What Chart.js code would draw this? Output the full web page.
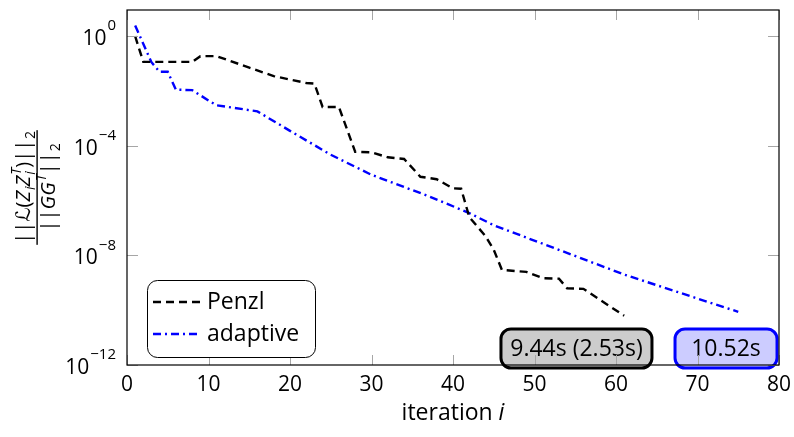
<!DOCTYPE html>
<html>
<head>
<meta charset="utf-8">
<script src="https://cdn.jsdelivr.net/npm/chart.js@4"></script>
<style>
html, body { margin: 0; padding: 0; background: #fff; }
#wrap { width: 794px; height: 437px; }
</style>
</head>
<body>
<div id="wrap"><canvas id="chart" width="794" height="437"></canvas></div>
<script>
// residual norms (corner points of each curve)
var penzlIter = [1, 2, 8, 9, 11, 15, 18, 22, 23, 24, 26, 28, 30, 32, 34, 36, 38, 40, 41, 42, 44, 45, 46, 49, 51, 53, 54, 56, 61];
var penzlRes = [1, 1.15e-1, 1.15e-1, 1.86e-1, 1.86e-1, 7.1e-2, 3.5e-2, 1.95e-2, 1.86e-2, 2.6e-3, 2.6e-3, 6.0e-5, 5.75e-5,
  3.8e-5, 3.3e-5, 7.4e-6, 6.0e-6, 2.8e-6, 2.7e-6, 2.5e-7, 5.0e-8, 1.6e-8, 2.95e-9, 2.5e-9, 1.48e-9, 1.41e-9, 6.3e-10, 6.0e-10, 6.3e-11];

var adaptIter = [1, 3, 4, 5, 6, 8, 10, 11, 16, 20, 25, 30, 37, 42, 45, 61, 75];
var adaptRes = [2.45, 1.12e-1, 5.0e-2, 5.0e-2, 1.12e-2, 1.07e-2, 4.5e-3, 3.0e-3, 1.8e-3, 3.5e-4, 4.7e-5, 8.7e-6, 1.45e-6,
  3.5e-7, 1.26e-7, 2.0e-9, 8.7e-11];

var xTicks = [0, 10, 20, 30, 40, 50, 60, 70, 80];
var yTickExp = [0, -4, -8, -12];

var timeLabels = ["9.44s (2.53s)", "10.52s"];
var timeX = [55.15, 73.5];
var timeY = [4e-12, 4e-12];
var timeBoxW = [151, 102];

var FONT = '"Open Sans", "DejaVu Sans", sans-serif';

function pts(xs, ys) {
  return xs.map(function (x, i) { return { x: x, y: ys[i] }; });
}

function roundRect(ctx, x, y, w, h, r) {
  ctx.beginPath();
  ctx.moveTo(x + r, y);
  ctx.lineTo(x + w - r, y);
  ctx.arcTo(x + w, y, x + w, y + r, r);
  ctx.lineTo(x + w, y + h - r);
  ctx.arcTo(x + w, y + h, x + w - r, y + h, r);
  ctx.lineTo(x + r, y + h);
  ctx.arcTo(x, y + h, x, y + h - r, r);
  ctx.lineTo(x, y + r);
  ctx.arcTo(x, y, x + r, y, r);
  ctx.closePath();
}

// runs of math text: {t, it, sub, sup}
function runWidth(ctx, run, size) {
  var w = 0;
  if (run.t) {
    ctx.font = (run.it ? 'italic ' : '') + size + 'px ' + FONT;
    w = ctx.measureText(run.t).width;
  }
  var sw = 0;
  ctx.font = 'italic ' + Math.round(size * 0.7) + 'px ' + FONT;
  if (run.sup) sw = Math.max(sw, ctx.measureText(run.sup).width);
  if (run.sub) sw = Math.max(sw, ctx.measureText(run.sub).width);
  return w + sw + (sw ? 1 : 0);
}

function drawRuns(ctx, runs, cx, baseY, size) {
  var total = 0;
  runs.forEach(function (r) { total += runWidth(ctx, r, size); });
  var x = cx - total / 2;
  ctx.textBaseline = 'alphabetic';
  ctx.textAlign = 'left';
  runs.forEach(function (r) {
    var w = 0;
    if (r.t) {
      ctx.font = (r.it ? 'italic ' : '') + size + 'px ' + FONT;
      ctx.fillText(r.t, x, baseY);
      w = ctx.measureText(r.t).width;
    }
    var small = Math.round(size * 0.7);
    ctx.font = (r.upSub ? '' : 'italic ') + small + 'px ' + FONT;
    var sw = 0;
    if (r.sup) { ctx.fillText(r.sup, x + w + 1, baseY - size * 0.45); sw = Math.max(sw, ctx.measureText(r.sup).width); }
    if (r.sub) { ctx.fillText(r.sub, x + w + 1, baseY + size * 0.25); sw = Math.max(sw, ctx.measureText(r.sub).width); }
    x += w + sw + (sw ? 1 : 0);
  });
  return total;
}

var decor = {
  id: 'decor',
  afterDatasetsDraw: function (chart) {
    var ctx = chart.ctx, xs = chart.scales.x, ys = chart.scales.y, a = chart.chartArea;
    ctx.save();

    // time boxes
    var fills = ['#cccccc', '#ccccff'], strokes = ['#000000', '#0000ff'];
    timeLabels.forEach(function (t, i) {
      var cx = xs.getPixelForValue(timeX[i]), cy = ys.getPixelForValue(timeY[i]);
      var w = timeBoxW[i], h = 39;
      roundRect(ctx, cx - w / 2, cy - h / 2, w, h, 10);
      ctx.fillStyle = fills[i];
      ctx.fill();
      ctx.lineWidth = 3;
      ctx.strokeStyle = strokes[i];
      ctx.stroke();
      ctx.fillStyle = '#000';
      ctx.font = '23px ' + FONT;
      ctx.textAlign = 'center';
      ctx.textBaseline = 'middle';
      ctx.fillText(t, cx, cy + 1);
    });

    // inner ticks
    ctx.strokeStyle = '#a6a6a6';
    ctx.lineWidth = 1;
    ctx.beginPath();
    xTicks.forEach(function (v) {
      var px = Math.round(xs.getPixelForValue(v)) + 0.5;
      ctx.moveTo(px, a.bottom); ctx.lineTo(px, a.bottom - 10);
      ctx.moveTo(px, a.top); ctx.lineTo(px, a.top + 10);
    });
    yTickExp.forEach(function (e) {
      var py = Math.round(ys.getPixelForValue(Math.pow(10, e))) + 0.5;
      ctx.moveTo(a.left, py); ctx.lineTo(a.left + 11, py);
      ctx.moveTo(a.right, py); ctx.lineTo(a.right - 11, py);
    });
    ctx.stroke();

    // frame
    ctx.strokeStyle = '#000';
    ctx.lineWidth = 1.2;
    ctx.strokeRect(a.left, a.top, a.right - a.left, a.bottom - a.top);

    // x tick labels
    ctx.fillStyle = '#000';
    ctx.font = '21px ' + FONT;
    ctx.textAlign = 'center';
    ctx.textBaseline = 'middle';
    xTicks.forEach(function (v) {
      ctx.fillText(String(v), xs.getPixelForValue(v), a.bottom + 20);
    });

    // y tick labels 10^e
    yTickExp.forEach(function (e) {
      var py = ys.getPixelForValue(Math.pow(10, e));
      var ex = e === 0 ? '0' : '\u2212' + String(-e);
      ctx.font = '15px ' + FONT;
      var ew = ctx.measureText(ex).width;
      var right = a.left - 11;
      ctx.textAlign = 'left';
      ctx.textBaseline = 'middle';
      ctx.fillText(ex, right - ew, py - 10);
      ctx.font = '21px ' + FONT;
      ctx.textAlign = 'right';
      ctx.fillText('10', right - ew - 1, py + 3);
    });

    // x title
    var title = [{ t: 'iteration ' }, { t: 'i', it: true }];
    drawRuns(ctx, title, (a.left + a.right) / 2, a.bottom + 55, 23);

    // y title: fraction, rotated
    ctx.save();
    ctx.translate(37, (a.top + a.bottom) / 2);
    ctx.rotate(-Math.PI / 2);
    var num = [{ t: '||' }, { t: '\u2112', it: true }, { t: '(' }, { t: 'Z', it: true, sub: 'i' },
      { t: 'Z', it: true, sup: 'T', sub: 'i' }, { t: ')' }, { t: '||', sub: '2', upSub: true }];
    var den = [{ t: '||' }, { t: 'G', it: true }, { t: 'G', it: true, sup: 'T' }, { t: '||', sub: '2', upSub: true }];
    var nw = drawRuns(ctx, num, 0, -7, 20);
    drawRuns(ctx, den, 0, 18, 20);
    ctx.fillRect(-nw / 2 - 1, -0.6, nw + 2, 1.4);
    ctx.restore();

    // legend
    roundRect(ctx, 147.5, 280.5, 168, 77, 10);
    ctx.fillStyle = '#fff';
    ctx.fill();
    ctx.strokeStyle = '#000';
    ctx.lineWidth = 1;
    ctx.stroke();
    chart.data.datasets.forEach(function (ds, i) {
      var ly = 302 + i * 32;
      ctx.beginPath();
      ctx.setLineDash(ds.borderDash);
      ctx.strokeStyle = ds.borderColor;
      ctx.lineWidth = ds.borderWidth;
      ctx.moveTo(153, ly); ctx.lineTo(201, ly);
      ctx.stroke();
      ctx.setLineDash([]);
      ctx.fillStyle = '#000';
      ctx.font = '23px ' + FONT;
      ctx.textAlign = 'left';
      ctx.textBaseline = 'middle';
      ctx.fillText(ds.label, 207, ly);
    });

    ctx.restore();
  }
};

new Chart(document.getElementById('chart').getContext('2d'), {
  type: 'line',
  data: {
    datasets: [
      {
        label: 'Penzl',
        data: pts(penzlIter, penzlRes),
        borderColor: '#000000',
        borderDash: [8, 5],
        borderWidth: 2.4,
        pointRadius: 0,
        fill: false,
        tension: 0
      },
      {
        label: 'adaptive',
        data: pts(adaptIter, adaptRes),
        borderColor: '#0000ff',
        borderDash: [8, 4, 2, 4],
        borderWidth: 2.4,
        pointRadius: 0,
        fill: false,
        tension: 0
      }
    ]
  },
  options: {
    responsive: false,
    animation: false,
    layout: { padding: { left: 127, right: 15, top: 10, bottom: 72 } },
    scales: {
      x: { type: 'linear', min: 0, max: 80, display: false },
      y: { type: 'logarithmic', min: 1e-12, max: 9, display: false }
    },
    plugins: { legend: { display: false }, tooltip: { enabled: false } }
  },
  plugins: [decor]
});
</script>
</body>
</html>
